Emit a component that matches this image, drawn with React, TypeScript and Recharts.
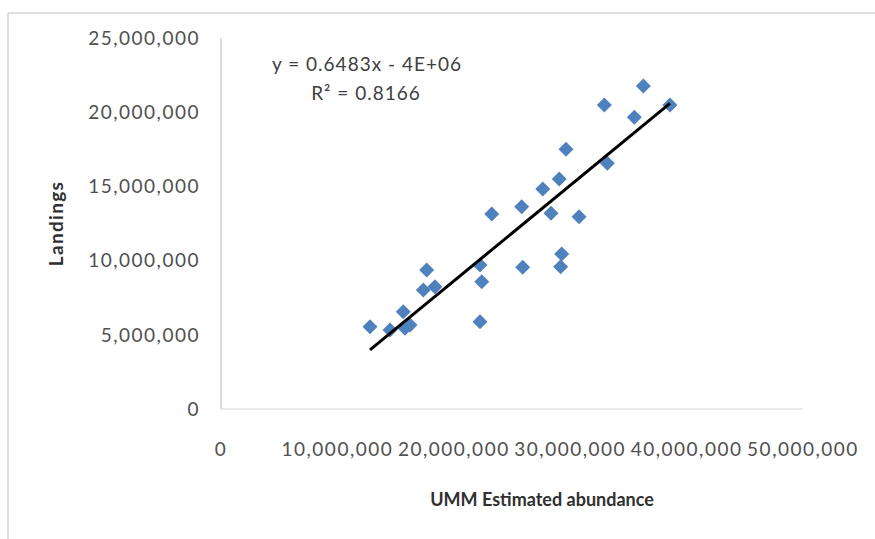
import React from 'react';
import { ScatterChart, Scatter, XAxis, YAxis, Label } from 'recharts';

// UMM estimated abundance (x) and landings (y)
const abundance = [
  12.8e6, 14.52e6, 15.66e6, 15.81e6, 16.24e6, 17.67e6, 17.38e6, 18.38e6,
  22.25e6, 22.4e6, 22.25e6, 23.26e6, 25.83e6, 25.92e6, 27.64e6, 29.06e6,
  28.35e6, 29.64e6, 30.76e6, 29.27e6, 29.18e6, 32.93e6, 33.19e6, 35.51e6,
  36.28e6, 38.57e6,
];
const landings = [
  5.55e6, 5.32e6, 6.56e6, 5.44e6, 5.66e6, 9.37e6, 8.02e6, 8.24e6,
  9.7e6, 8.58e6, 5.88e6, 13.14e6, 13.63e6, 9.55e6, 14.82e6, 15.5e6,
  13.19e6, 17.5e6, 12.96e6, 10.44e6, 9.59e6, 20.49e6, 16.56e6, 19.66e6,
  21.77e6, 20.49e6,
];
// linear trendline end points (y = 0.6483x - 4E+06)
const trendX = [12.8e6, 38.57e6];
const trendY = [3.98e6, 20.6e6];

const xTicks = [0, 10e6, 20e6, 30e6, 40e6, 50e6];
const yTicks = [0, 5e6, 10e6, 15e6, 20e6, 25e6];

const points = abundance.map((x, i) => ({ x, y: landings[i] }));
const trend = trendX.map((x, i) => ({ x, y: trendY[i] }));

const FONT = 'Lato, "Open Sans", sans-serif';
const fmt = (v: number) => v.toLocaleString('en-US');

const Diamond = (props: any) => {
  const { cx, cy } = props;
  const r = 7.5;
  return (
    <path
      d={`M${cx},${cy - r}L${cx + r},${cy}L${cx},${cy + r}L${cx - r},${cy}Z`}
      fill="#4F81BD"
    />
  );
};

const NoShape = () => <g />;

export default function App() {
  const tickStyle = { fill: '#505050', fontSize: 19, fontFamily: FONT, letterSpacing: 1.5 };
  return (
    <div style={{ position: 'absolute', left: 0, top: 0, width: 875, height: 539, background: '#fff' }}>
      <svg width={875} height={539} style={{ position: 'absolute', left: 0, top: 0 }}>
        <line x1={8} y1={13} x2={875} y2={13} stroke="#d4d4d4" strokeWidth={1.5} />
        <line x1={8} y1={13} x2={8} y2={539} stroke="#d4d4d4" strokeWidth={1.5} />
      </svg>
      <div style={{ position: 'absolute', left: 0, top: 0 }}>
        <ScatterChart width={875} height={539} margin={{ top: 38, right: 72, bottom: 0, left: 0 }}>
          <XAxis
            type="number"
            dataKey="x"
            domain={[0, 50e6]}
            ticks={xTicks}
            tickFormatter={fmt}
            interval={0}
            height={130}
            tickSize={0}
            tickMargin={34}
            tickLine={false}
            axisLine={{ stroke: '#e2e2e2', strokeWidth: 1.5 }}
            tick={tickStyle}
          >
            <Label
              value="UMM Estimated abundance"
              position="center"
              dx={30}
              dy={26}
              style={{ fill: '#303030', fontSize: 18, fontWeight: 700, fontFamily: FONT, letterSpacing: 0 }}
            />
          </XAxis>
          <YAxis
            type="number"
            dataKey="y"
            domain={[0, 25e6]}
            ticks={yTicks}
            tickFormatter={fmt}
            interval={0}
            width={221}
            tickSize={0}
            tickMargin={21}
            tickLine={false}
            axisLine={{ stroke: '#d0d0d0', strokeWidth: 1.5 }}
            tick={tickStyle}
          >
            <Label
              value="Landings"
              angle={-90}
              position="center"
              dx={-54}
              style={{ fill: '#303030', fontSize: 19, fontWeight: 700, fontFamily: FONT, letterSpacing: 1.3 }}
            />
          </YAxis>
          <Scatter data={points} shape={Diamond} isAnimationActive={false} />
          <Scatter
            data={trend}
            shape={NoShape}
            line={{ stroke: '#000000', strokeWidth: 3 }}
            isAnimationActive={false}
          />
        </ScatterChart>
      </div>
      <svg width={875} height={539} style={{ position: 'absolute', left: 0, top: 0, pointerEvents: 'none' }}>
        <text x={367} y={63} textAnchor="middle" dominantBaseline="central"
          style={{ fill: '#404040', fontSize: 19, fontFamily: FONT, letterSpacing: 1 }}>
          y = 0.6483x - 4E+06
        </text>
        <text x={366} y={92} textAnchor="middle" dominantBaseline="central"
          style={{ fill: '#404040', fontSize: 19, fontFamily: FONT, letterSpacing: 1 }}>
          R² = 0.8166
        </text>
      </svg>
    </div>
  );
}
